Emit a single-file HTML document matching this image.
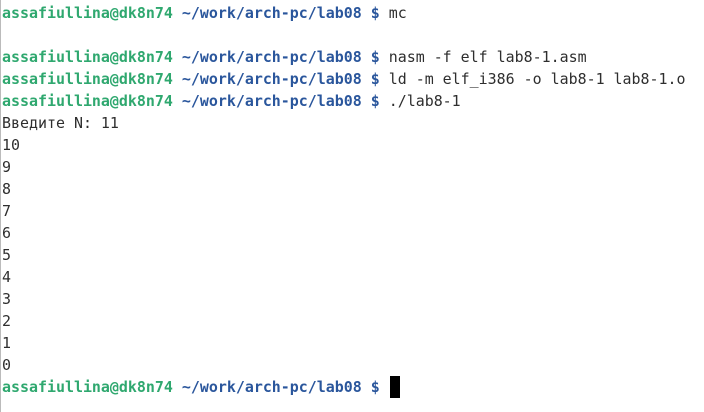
<!DOCTYPE html>
<html><head><meta charset="utf-8"><style>
html,body{margin:0;padding:0;background:#fff;}
body{width:704px;height:412px;overflow:hidden;position:relative;border-left:1px solid #bbb;box-sizing:border-box;}
pre{margin:0;position:absolute;left:1px;top:2px;font-family:"DejaVu Sans Mono","Liberation Mono",monospace;font-size:14.95px;line-height:22px;color:#2e2e2e;}
.g{color:#2fa86f;font-weight:bold;}
.b{color:#2a569c;font-weight:bold;}
.cur{position:absolute;left:389px;top:376px;width:10px;height:22px;background:#000;}
</style></head><body>
<pre><span class="g">assafiullina@dk8n74</span> <span class="b">~/work/arch-pc/lab08 $</span> mc

<span class="g">assafiullina@dk8n74</span> <span class="b">~/work/arch-pc/lab08 $</span> nasm -f elf lab8-1.asm
<span class="g">assafiullina@dk8n74</span> <span class="b">~/work/arch-pc/lab08 $</span> ld -m elf_i386 -o lab8-1 lab8-1.o
<span class="g">assafiullina@dk8n74</span> <span class="b">~/work/arch-pc/lab08 $</span> ./lab8-1
Введите N: 11
10
9
8
7
6
5
4
3
2
1
0
<span class="g">assafiullina@dk8n74</span> <span class="b">~/work/arch-pc/lab08 $</span> </pre>
<div class="cur"></div>
</body></html>
